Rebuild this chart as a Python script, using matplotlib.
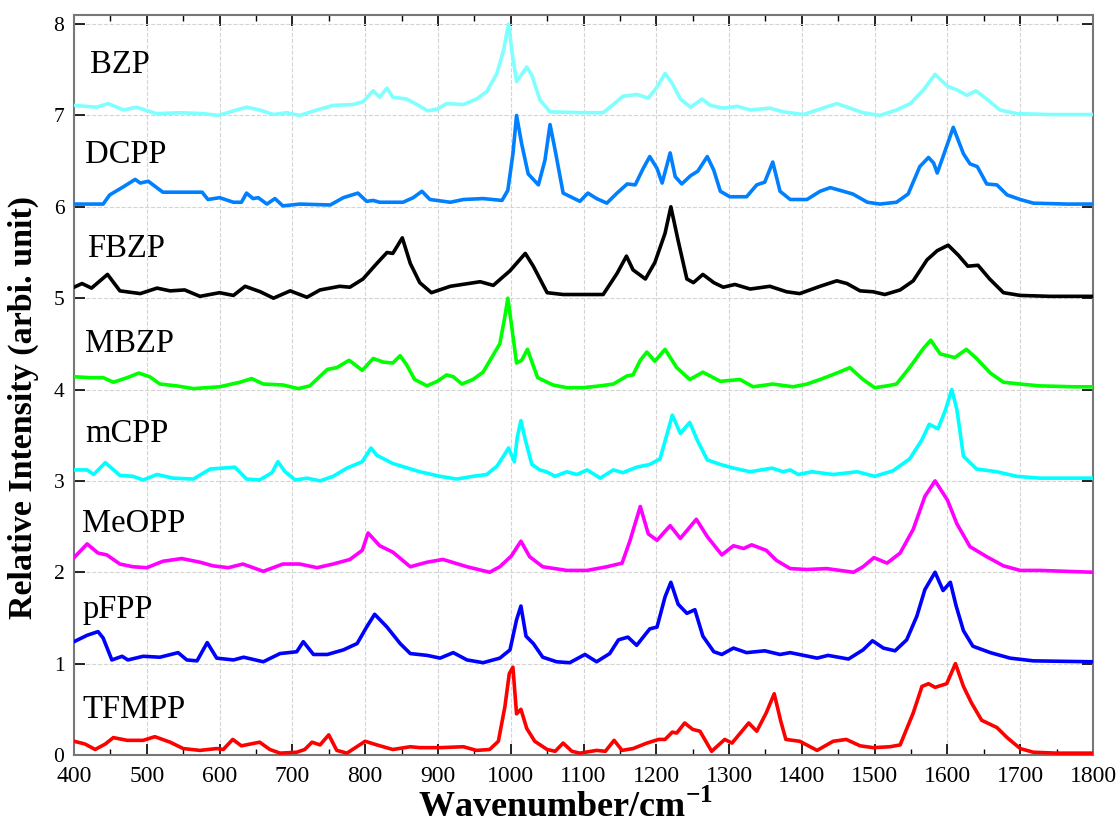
import matplotlib.pyplot as plt
import numpy as np
from matplotlib.ticker import MultipleLocator

# normalised Raman spectra: (wavenumber cm-1, relative intensity)
tfmpp = [(400,0.15),(415,0.12),(429,0.06),(443,0.12),(454,0.19),(473,0.16),(495,0.16),(511,0.20),(532,0.14),(550,0.07),
         (573,0.05),(596,0.07),(605,0.06),(618,0.17),(630,0.10),(655,0.14),(669,0.06),(683,0.02),(706,0.03),(717,0.06),
         (727,0.14),(738,0.11),(750,0.22),(761,0.05),(775,0.02),(800,0.15),(816,0.11),(838,0.06),(862,0.09),(875,0.08),
         (903,0.08),(935,0.09),(953,0.05),(971,0.06),(983,0.15),(992,0.53),(998,0.89),(1003,0.96),(1008,0.45),(1014,0.50),
         (1022,0.29),(1033,0.15),(1050,0.06),(1061,0.04),(1072,0.13),(1084,0.04),(1095,0.02),(1118,0.05),(1130,0.04),(1142,0.16),
         (1153,0.05),(1168,0.07),(1187,0.13),(1203,0.17),(1212,0.17),(1222,0.25),(1228,0.24),(1239,0.35),(1250,0.28),(1260,0.26),
         (1276,0.04),(1294,0.17),(1304,0.13),(1327,0.35),(1338,0.26),(1351,0.46),(1362,0.67),(1371,0.37),(1378,0.17),(1397,0.15),
         (1421,0.05),(1443,0.15),(1461,0.17),(1480,0.10),(1498,0.08),(1521,0.09),(1535,0.11),(1553,0.46),(1565,0.75),(1574,0.78),
         (1583,0.74),(1599,0.78),(1611,1.00),(1622,0.75),(1633,0.57),(1647,0.38),(1668,0.30),(1682,0.19),(1700,0.07),(1718,0.03),
         (1750,0.02),(1800,0.02)]

pfpp = [(400,0.24),(418,0.31),(433,0.35),(440,0.28),(452,0.04),(466,0.08),(474,0.04),(495,0.08),(518,0.07),(543,0.12),
        (555,0.04),(569,0.03),(583,0.23),(596,0.06),(619,0.04),(633,0.07),(660,0.02),(683,0.11),(706,0.13),(715,0.24),
        (729,0.10),(748,0.10),(770,0.15),(789,0.22),(802,0.40),(813,0.54),(830,0.40),(848,0.22),(862,0.11),(885,0.09),
        (903,0.06),(921,0.12),(940,0.04),(962,0.01),(985,0.06),(999,0.15),(1008,0.48),(1014,0.63),(1021,0.30),(1031,0.22),
        (1044,0.07),(1063,0.02),(1081,0.01),(1102,0.10),(1118,0.02),(1136,0.11),(1148,0.26),(1161,0.29),(1173,0.20),(1191,0.38),
        (1201,0.40),(1212,0.73),(1220,0.89),(1230,0.65),(1242,0.55),(1253,0.59),(1264,0.30),(1279,0.13),(1290,0.10),(1306,0.17),
        (1324,0.12),(1349,0.14),(1370,0.10),(1384,0.12),(1421,0.06),(1436,0.09),(1464,0.05),(1484,0.15),(1497,0.25),(1512,0.17),
        (1528,0.14),(1544,0.26),(1558,0.52),(1569,0.81),(1583,1.00),(1594,0.80),(1604,0.89),(1612,0.63),(1622,0.36),(1635,0.19),
        (1659,0.12),(1686,0.06),(1718,0.03),(1800,0.02)]

meopp = [(400,0.16),(418,0.31),(433,0.21),(445,0.19),(463,0.09),(481,0.06),(500,0.05),(522,0.12),(548,0.15),(573,0.11),
         (591,0.07),(612,0.05),(632,0.09),(660,0.01),(687,0.09),(710,0.09),(734,0.05),(756,0.09),(779,0.14),(796,0.24),
         (804,0.43),(820,0.29),(838,0.22),(862,0.06),(885,0.11),(907,0.14),(940,0.06),(971,0.00),(985,0.06),(1001,0.18),
         (1014,0.34),(1026,0.17),(1044,0.06),(1077,0.02),(1105,0.02),(1132,0.06),(1153,0.10),(1164,0.35),(1178,0.72),(1189,0.42),
         (1201,0.35),(1219,0.51),(1233,0.37),(1255,0.58),(1270,0.39),(1290,0.19),(1306,0.29),(1320,0.26),(1331,0.30),(1351,0.24),
         (1365,0.13),(1384,0.04),(1407,0.03),(1434,0.04),(1471,0.00),(1484,0.06),(1499,0.16),(1517,0.10),(1535,0.21),(1553,0.47),
         (1569,0.83),(1583,1.00),(1600,0.79),(1613,0.53),(1631,0.28),(1654,0.17),(1677,0.07),(1700,0.02),(1727,0.02),(1800,0.00)]

mcpp = [(400,0.12),(418,0.12),(427,0.07),(443,0.20),(463,0.06),(481,0.05),(495,0.01),(514,0.07),(536,0.03),(564,0.02),
        (587,0.13),(605,0.14),(621,0.15),(637,0.02),(655,0.01),(672,0.09),(680,0.21),(690,0.10),(704,0.01),(720,0.03),
        (738,0.00),(756,0.05),(775,0.14),(796,0.21),(808,0.36),(816,0.28),(838,0.19),(875,0.10),(903,0.05),(926,0.02),
        (948,0.05),(967,0.07),(981,0.16),(990,0.27),(997,0.36),(1005,0.21),(1009,0.48),(1014,0.66),(1020,0.45),(1029,0.18),
        (1040,0.12),(1049,0.10),(1061,0.05),(1077,0.10),(1091,0.07),(1105,0.12),(1123,0.03),(1141,0.12),(1154,0.09),(1173,0.15),
        (1191,0.18),(1205,0.24),(1215,0.52),(1222,0.72),(1233,0.52),(1246,0.64),(1256,0.45),(1270,0.23),(1288,0.18),(1306,0.14),
        (1329,0.10),(1359,0.14),(1374,0.10),(1384,0.12),(1395,0.07),(1414,0.10),(1443,0.07),(1476,0.10),(1500,0.05),(1525,0.11),
        (1548,0.24),(1565,0.45),(1575,0.62),(1587,0.57),(1597,0.77),(1606,1.00),(1613,0.78),(1622,0.27),(1640,0.13),(1668,0.10),
        (1695,0.05),(1727,0.03),(1800,0.03)]

mbzp = [(400,0.14),(422,0.13),(440,0.13),(454,0.08),(473,0.13),(489,0.18),(504,0.14),(518,0.06),(541,0.04),(564,0.01),
        (600,0.03),(628,0.08),(644,0.12),(660,0.06),(687,0.05),(708,0.01),(724,0.04),(748,0.22),(761,0.24),(778,0.32),
        (796,0.21),(811,0.34),(825,0.30),(838,0.29),(848,0.37),(857,0.27),(868,0.11),(885,0.04),(899,0.09),(912,0.16),
        (921,0.14),(933,0.06),(948,0.11),(962,0.19),(976,0.38),(985,0.50),(992,0.80),(996,1.00),(1002,0.65),(1008,0.29),
        (1015,0.32),(1023,0.44),(1031,0.26),(1037,0.13),(1058,0.05),(1077,0.02),(1099,0.02),(1123,0.04),(1141,0.06),(1160,0.15),
        (1168,0.16),(1178,0.32),(1187,0.41),(1198,0.31),(1212,0.44),(1228,0.24),(1246,0.11),(1264,0.19),(1288,0.09),(1315,0.11),
        (1333,0.03),(1360,0.06),(1388,0.03),(1407,0.06),(1425,0.11),(1448,0.18),(1466,0.24),(1484,0.11),(1500,0.02),(1517,0.04),
        (1530,0.06),(1548,0.24),(1567,0.45),(1577,0.54),(1590,0.39),(1610,0.35),(1626,0.44),(1640,0.34),(1659,0.18),(1677,0.08),
        (1700,0.06),(1727,0.04),(1773,0.03),(1800,0.03)]

fbzp = [(400,0.12),(411,0.16),(424,0.11),(446,0.26),(463,0.08),(491,0.05),(514,0.11),(532,0.08),(552,0.09),(573,0.02),
        (600,0.06),(619,0.03),(635,0.13),(656,0.07),(674,0.00),(697,0.08),(720,0.01),(738,0.09),(765,0.13),(779,0.12),
        (797,0.21),(816,0.38),(830,0.50),(838,0.49),(851,0.66),(862,0.38),(875,0.17),(891,0.06),(917,0.13),(958,0.18),
        (976,0.14),(999,0.30),(1020,0.49),(1031,0.35),(1050,0.06),(1072,0.04),(1099,0.04),(1127,0.04),(1146,0.27),(1159,0.46),
        (1168,0.31),(1185,0.21),(1198,0.39),(1212,0.71),(1220,1.00),(1230,0.63),(1242,0.21),(1251,0.17),(1264,0.26),(1279,0.17),
        (1292,0.12),(1308,0.15),(1329,0.10),(1356,0.13),(1379,0.07),(1397,0.05),(1425,0.13),(1448,0.19),(1462,0.16),(1480,0.08),
        (1498,0.07),(1514,0.04),(1535,0.09),(1553,0.19),(1572,0.42),(1586,0.52),(1601,0.58),(1615,0.47),(1628,0.35),(1642,0.36),
        (1658,0.21),(1677,0.06),(1700,0.03),(1741,0.02),(1800,0.02)]

dcpp = [(400,0.03),(440,0.03),(449,0.13),(468,0.22),(484,0.30),(491,0.26),(502,0.28),(522,0.16),(555,0.16),(576,0.16),
        (584,0.08),(600,0.10),(619,0.05),(630,0.05),(637,0.15),(646,0.09),(653,0.10),(665,0.03),(676,0.09),(687,0.01),
        (710,0.03),(752,0.02),(770,0.10),(790,0.15),(802,0.06),(811,0.07),(820,0.05),(852,0.05),(866,0.10),(878,0.17),
        (889,0.08),(917,0.05),(935,0.08),(962,0.09),(988,0.07),(996,0.18),(1003,0.58),(1008,1.00),(1015,0.69),(1024,0.36),
        (1038,0.24),(1047,0.51),(1054,0.90),(1061,0.62),(1072,0.15),(1095,0.06),(1106,0.15),(1118,0.09),(1132,0.04),(1146,0.15),
        (1160,0.25),(1171,0.24),(1182,0.42),(1191,0.55),(1201,0.42),(1208,0.26),(1219,0.59),(1226,0.33),(1235,0.25),(1247,0.34),
        (1257,0.39),(1270,0.55),(1279,0.40),(1288,0.17),(1301,0.11),(1324,0.11),(1338,0.24),(1349,0.27),(1360,0.49),(1370,0.17),
        (1384,0.08),(1407,0.08),(1425,0.17),(1439,0.21),(1457,0.17),(1470,0.14),(1490,0.05),(1507,0.03),(1530,0.05),(1546,0.14),
        (1562,0.44),(1574,0.54),(1581,0.48),(1586,0.37),(1594,0.55),(1608,0.87),(1622,0.58),(1631,0.47),(1641,0.44),(1654,0.25),
        (1668,0.24),(1682,0.13),(1700,0.08),(1718,0.04),(1764,0.03),(1800,0.03)]

bzp = [(400,0.11),(431,0.09),(447,0.13),(468,0.06),(486,0.09),(513,0.02),(546,0.03),(578,0.02),(598,0.00),(619,0.05),
       (637,0.09),(655,0.06),(674,0.01),(692,0.03),(710,0.00),(738,0.07),(756,0.11),(783,0.12),(797,0.15),(811,0.27),
       (820,0.20),(830,0.30),(838,0.20),(857,0.18),(871,0.12),(886,0.05),(899,0.07),(912,0.13),(935,0.12),(953,0.18),
       (967,0.26),(981,0.46),(990,0.71),(997,1.00),(1002,0.68),(1008,0.37),(1022,0.53),(1029,0.44),(1040,0.17),(1054,0.04),
       (1099,0.03),(1127,0.03),(1141,0.12),(1154,0.21),(1173,0.23),(1189,0.19),(1201,0.31),(1212,0.46),(1222,0.35),(1233,0.18),
       (1247,0.09),(1263,0.18),(1274,0.11),(1292,0.08),(1311,0.10),(1329,0.06),(1356,0.08),(1374,0.04),(1402,0.01),(1425,0.07),
       (1448,0.13),(1466,0.08),(1484,0.03),(1507,0.00),(1530,0.06),(1549,0.13),(1567,0.28),(1583,0.45),(1600,0.32),(1613,0.28),
       (1627,0.22),(1639,0.27),(1654,0.18),(1672,0.06),(1695,0.02),(1741,0.01),(1800,0.01)]

names = ['TFMPP', 'pFPP', 'MeOPP', 'mCPP', 'MBZP', 'FBZP', 'DCPP', 'BZP']
spectra = [tfmpp, pfpp, meopp, mcpp, mbzp, fbzp, dcpp, bzp]
offsets = [0, 1, 2, 3, 4, 5, 6, 7]
colors = ['#ff0000', '#0000ff', '#ff00ff', '#00ffff', '#00ff00', '#000000', '#0080ff', '#80ffff']

plt.rcParams['font.family'] = ['Liberation Serif', 'DejaVu Serif']
plt.rcParams['mathtext.fontset'] = 'custom'
plt.rcParams['mathtext.rm'] = 'Liberation Serif'
plt.rcParams['mathtext.bf'] = 'Liberation Serif:bold'

fig = plt.figure(figsize=(11.2, 8.31), dpi=100)
ax = fig.add_axes([0.0661, 0.0915, 0.9098, 0.8905])

# label placement (wavenumber, height) for each trace name
label_xy = [(412, 0.40), (412, 1.50), (411, 2.44), (416, 3.43), (415, 4.41), (418, 5.45), (415, 6.48), (422, 7.47)]

for spec, off, c, name, (lx, ly) in zip(spectra, offsets, colors, names, label_xy):
    arr = np.array(spec)
    ax.plot(arr[:, 0], arr[:, 1] + off, color=c, lw=2.6, solid_joinstyle='round', zorder=3)
    ax.text(lx, ly, name, fontsize=23.5, va='baseline', ha='left', zorder=4)

ax.set_xlim(400, 1800)
ax.set_ylim(0, 8.1)
ax.set_xticks(np.arange(400, 1801, 100))
ax.set_yticks(np.arange(0, 9, 1))
ax.xaxis.set_minor_locator(MultipleLocator(50))

ax.grid(True, which='major', ls='--', color='#d4d4d4', lw=0.8)
ax.set_axisbelow(True)

ax.tick_params(which='major', direction='in', top=True, right=True, length=8, width=1.2)
ax.tick_params(axis='x', which='major', labelsize=17, pad=8)
ax.tick_params(axis='y', which='major', labelsize=15.5, pad=7)
ax.tick_params(which='minor', direction='in', top=True, bottom=True, length=4, width=1.0)
for s in ax.spines.values():
    s.set_color('#777777')
    s.set_linewidth(1.5)

ax.set_xlabel('Wavenumber/cm$^{\\mathbf{-1}}$', fontsize=26, fontweight='bold')
ax.xaxis.set_label_coords(0.482, -0.047, transform=ax.transAxes)
ax.xaxis.label.set_va('top')
ax.set_ylabel('Relative Intensity (arbi. unit)', fontsize=24.5, fontweight='bold')
ax.yaxis.set_label_coords(-0.034, 0.47)

fig.savefig('out.png', dpi=100)
